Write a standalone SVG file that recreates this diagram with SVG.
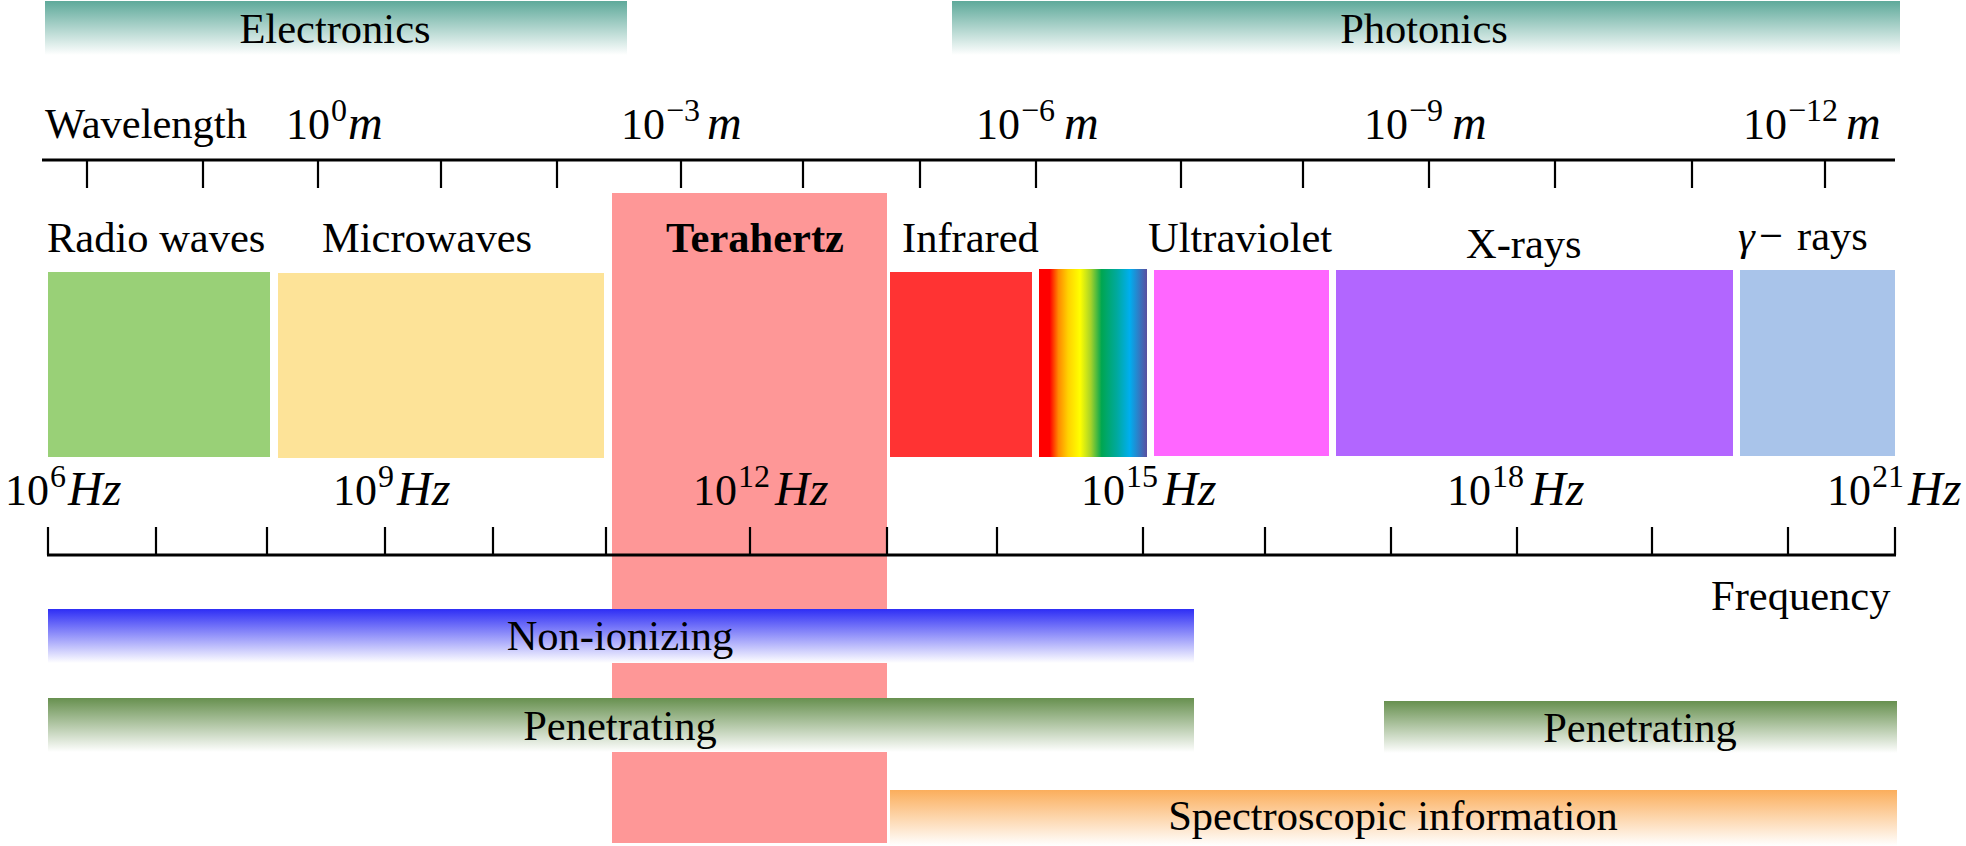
<svg xmlns="http://www.w3.org/2000/svg" width="1966" height="846" viewBox="0 0 1966 846">
<defs>
<linearGradient id="gTeal" x1="0" y1="0" x2="0" y2="1"><stop offset="0" stop-color="#5ea99a"/><stop offset="1" stop-color="#ffffff"/></linearGradient>
<linearGradient id="gBlue" x1="0" y1="0" x2="0" y2="1"><stop offset="0" stop-color="#2e2ef5"/><stop offset="1" stop-color="#ffffff"/></linearGradient>
<linearGradient id="gGreen" x1="0" y1="0" x2="0" y2="1"><stop offset="0" stop-color="#67904f"/><stop offset="1" stop-color="#ffffff"/></linearGradient>
<linearGradient id="gOrange" x1="0" y1="0" x2="0" y2="1"><stop offset="0" stop-color="#fbae5c"/><stop offset="1" stop-color="#ffffff"/></linearGradient>
<linearGradient id="gRainbow" x1="0" y1="0" x2="1" y2="0">
<stop offset="0" stop-color="#ff0000"/><stop offset="0.1" stop-color="#ff0000"/><stop offset="0.18" stop-color="#ff8a00"/><stop offset="0.27" stop-color="#ffd200"/><stop offset="0.38" stop-color="#ffff00"/><stop offset="0.48" stop-color="#a6d22a"/><stop offset="0.58" stop-color="#00a651"/><stop offset="0.72" stop-color="#00a99d"/><stop offset="0.84" stop-color="#00aeef"/><stop offset="1" stop-color="#5b4fa0"/>
</linearGradient>
</defs>
<style>
text{font-family:"Liberation Serif","Times New Roman",serif;fill:#000}
.lbl{font-size:42.5px}
.b{font-weight:bold}
.mn{font-size:44px}
.sp{font-size:32px}
.it{font-size:48px;font-style:italic}
.ax{stroke:#000;stroke-width:3;fill:none}
.tk{stroke:#000;stroke-width:2.2;fill:none}
</style>
<rect width="1966" height="846" fill="#fff"/>

<g id="electronics"><rect x="45" y="1" width="582" height="54" fill="url(#gTeal)"/><text class="lbl" x="335" y="43" text-anchor="middle">Electronics</text></g>
<g id="photonics"><rect x="952" y="1" width="948" height="54" fill="url(#gTeal)"/><text class="lbl" x="1424" y="43" text-anchor="middle">Photonics</text></g>

<g id="terahertz-band"><rect x="612" y="193" width="275" height="650" fill="#fe9797"/></g>

<g id="wavelength-axis">
<text class="lbl" x="45" y="138">Wavelength</text>
<line class="ax" x1="42" y1="160" x2="1895" y2="160"/>
<path class="tk" d="M87 160V188M203 160V188M318 160V188M441 160V188M557 160V188M681 160V188M803 160V188M920 160V188M1036 160V188M1181 160V188M1303 160V188M1429 160V188M1555 160V188M1692 160V188M1825 160V188"/>
<text class="mn" x="286" y="139">10</text><text class="sp" x="331" y="121">0</text><text class="it" x="348" y="139">m</text>
<text class="mn" x="621" y="139">10</text><text class="sp" x="666" y="121">−3</text><text class="it" x="707" y="139">m</text>
<text class="mn" x="976" y="139">10</text><text class="sp" x="1021" y="121">−6</text><text class="it" x="1064" y="139">m</text>
<text class="mn" x="1364" y="139">10</text><text class="sp" x="1409" y="121">−9</text><text class="it" x="1452" y="139">m</text>
<text class="mn" x="1743" y="139">10</text><text class="sp" x="1788" y="121">−12</text><text class="it" x="1846" y="139">m</text>
</g>

<g id="radio"><rect x="48" y="272" width="222" height="185" fill="#99d077"/><text class="lbl" x="47" y="252">Radio waves</text></g>
<g id="microwaves"><rect x="278" y="273" width="326" height="185" fill="#fde398"/><text class="lbl" x="322" y="252">Microwaves</text></g>
<g id="terahertz"><text class="lbl b" x="755" y="252" text-anchor="middle">Terahertz</text></g>
<g id="infrared"><rect x="890" y="272" width="142" height="185" fill="#ff3333"/><text class="lbl" x="902" y="252">Infrared</text></g>
<g id="visible"><rect x="1039" y="269" width="108" height="188" fill="url(#gRainbow)"/></g>
<g id="ultraviolet"><rect x="1154" y="270" width="175" height="186" fill="#ff66ff"/><text class="lbl" x="1148" y="252">Ultraviolet</text></g>
<g id="xrays"><rect x="1336" y="270" width="397" height="186" fill="#b266ff"/><text class="lbl" x="1466" y="258">X-rays</text></g>
<g id="gamma"><rect x="1740" y="270" width="155" height="186" fill="#a9c4ea"/><text class="lbl" x="1738" y="250"><tspan font-style="italic">γ</tspan><tspan x="1759">−</tspan><tspan x="1797">rays</tspan></text></g>

<g id="frequency-axis">
<text class="mn" x="5" y="505">10</text><text class="sp" x="50" y="487">6</text><text class="it" x="68" y="505">Hz</text>
<text class="mn" x="333" y="505">10</text><text class="sp" x="378" y="487">9</text><text class="it" x="397" y="505">Hz</text>
<text class="mn" x="693" y="505">10</text><text class="sp" x="738" y="487">12</text><text class="it" x="775" y="505">Hz</text>
<text class="mn" x="1081" y="505">10</text><text class="sp" x="1126" y="487">15</text><text class="it" x="1163" y="505">Hz</text>
<text class="mn" x="1447" y="505">10</text><text class="sp" x="1492" y="487">18</text><text class="it" x="1531" y="505">Hz</text>
<text class="mn" x="1827" y="505">10</text><text class="sp" x="1872" y="487">21</text><text class="it" x="1908" y="505">Hz</text>
<line class="ax" x1="47" y1="555" x2="1896" y2="555"/>
<path class="tk" d="M48 527V555M156 527V555M267 527V555M385 527V555M493 527V555M606 527V555M750 527V555M887 527V555M997 527V555M1143 527V555M1265 527V555M1391 527V555M1517 527V555M1652 527V555M1788 527V555M1895 527V555"/>
<text class="lbl" x="1711" y="610">Frequency</text>
</g>

<g id="non-ionizing"><rect x="48" y="609" width="1146" height="54" fill="url(#gBlue)"/><text class="lbl" x="620" y="650" text-anchor="middle">Non-ionizing</text></g>
<g id="penetrating-low"><rect x="48" y="698" width="1146" height="54" fill="url(#gGreen)"/><text class="lbl" x="620" y="740" text-anchor="middle">Penetrating</text></g>
<g id="penetrating-high"><rect x="1384" y="701" width="513" height="52" fill="url(#gGreen)"/><text class="lbl" x="1640" y="742" text-anchor="middle">Penetrating</text></g>
<g id="spectroscopic"><rect x="890" y="790" width="1007" height="56" fill="url(#gOrange)"/><text class="lbl" x="1393" y="830" text-anchor="middle">Spectroscopic information</text></g>
<g id="connectors"/>
</svg>
